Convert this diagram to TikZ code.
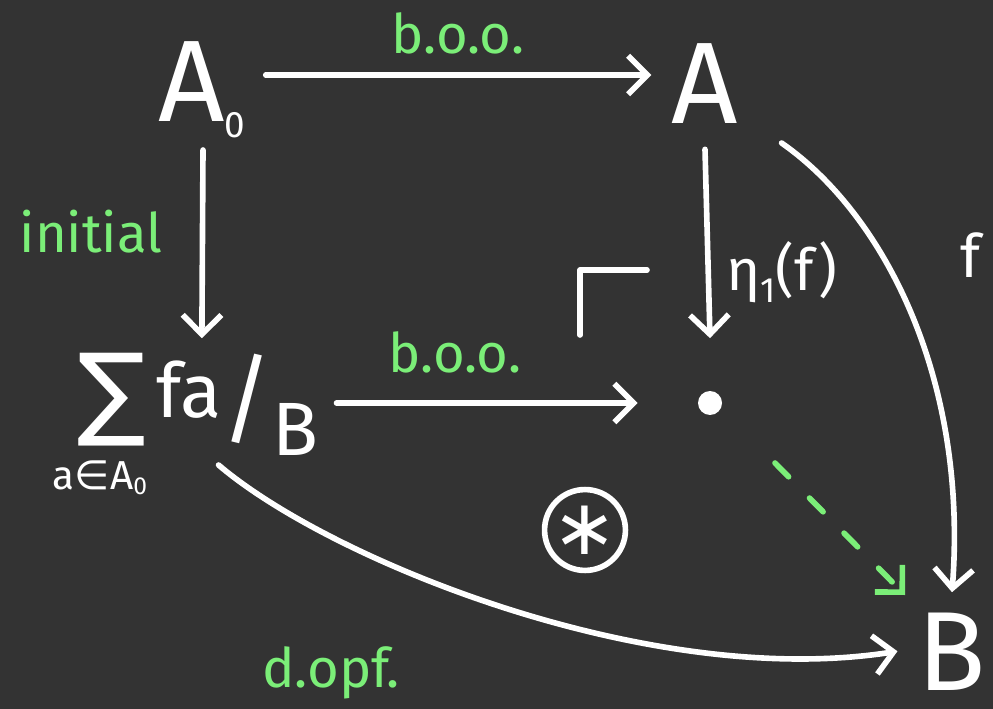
\documentclass[tikz,border=0pt]{standalone}
\usepackage{fontspec}
\setmainfont{Fira Sans}
\newfontfamily\symfont{DejaVu Sans}
\usepackage{xcolor}
\usetikzlibrary{arrows.meta, positioning}

\definecolor{board}{HTML}{333333}
\definecolor{chalkgreen}{HTML}{7BEE78}

\begin{document}
\begin{tikzpicture}[
  x=0.02cm, y=-0.02cm,
  every node/.style={text=white, inner sep=0pt},
  obj/.style={font=\fontsize{66}{70}\selectfont},
  lbl/.style={text=chalkgreen, font=\fontsize{31}{34}\selectfont},
  stroke/.style={white, line width=3.2pt, line cap=round, line join=round},
  arrow/.style={stroke, -{Straight Barb[length=11pt, width=22pt, line width=3.2pt]}}
]
\fill[board] (0,0) rectangle (993,709);

% objects
\node[obj, anchor=base west] (a0) at (158,122) {A\raisebox{-9pt}{\fontsize{21}{21}\selectfont 0}};
\node[obj, anchor=base] (a) at (705,124) {A};
\node[font=\symfont\fontsize{58}{60}\selectfont] (sigma) at (112,400) {∑};
\node[font=\fontsize{23}{25}\selectfont] (index) at (100,478) {a{\symfont∈}A\raisebox{-3pt}{\fontsize{14}{14}\selectfont 0}};
\node[font=\fontsize{43}{46}\selectfont, anchor=base west] (slice) at (156,433) {\raisebox{9pt}{fa}{\fontsize{56}{56}\selectfont/}\raisebox{-13pt}{B}};
\node[circle, fill=white, minimum size=0.48cm] (pb) at (710,403) {};
\node[font=\fontsize{64}{68}\selectfont, anchor=base] (b) at (952,690) {B};

% labels
\node[lbl] (top) at (458,33) {b.o.o.};
\node[lbl] (bottom) at (455,352) {b.o.o.};
\node[lbl] (init) at (91,232) {initial};
\node[lbl] (dopf) at (331,673) {d.opf.};
\node[font=\fontsize{34}{36}\selectfont] (flbl) at (970,255) {f};
\node[font=\fontsize{33}{35}\selectfont, anchor=west] (eta) at (726,272) {η\raisebox{-7pt}{\fontsize{20}{20}\selectfont 1}(f)};

\draw[stroke] (647,270) -- (580,270) -- (580,335);
\node[circle, draw=white, line width=3.2pt, minimum size=1.4cm, font=\symfont\fontsize{44}{44}\selectfont] (star) at (585,530) {∗};

% arrows
\draw[arrow] ([shift={(20,-47)}]a0.base east) -- ([shift={(-20,-49)}]a.base west);
\draw[arrow] ([shift={(45,28)}]a0.base west) -- ([yshift=0.3cm]sigma.north -| a0.south);
\draw[arrow] ([yshift=-0.5cm]a.south) -- ([yshift=1.05cm]pb.north);
\draw[arrow] ([shift={(18,-30)}]slice.base east) -- ([xshift=-1.2cm]pb.west);
\draw[arrow] ([shift={(43,19)}]a.base east) .. controls (885,215) and (968,380) .. ([yshift=0.4cm]b.north);
\draw[arrow] ([shift={(-100,32)}]slice.base east) .. controls (330,560) and (650,690) .. ([xshift=-0.4cm]b.west);
\draw[arrow, chalkgreen, dash pattern=on 11pt off 17pt] (775,463) -- (905,595);
\end{tikzpicture}
\end{document}
